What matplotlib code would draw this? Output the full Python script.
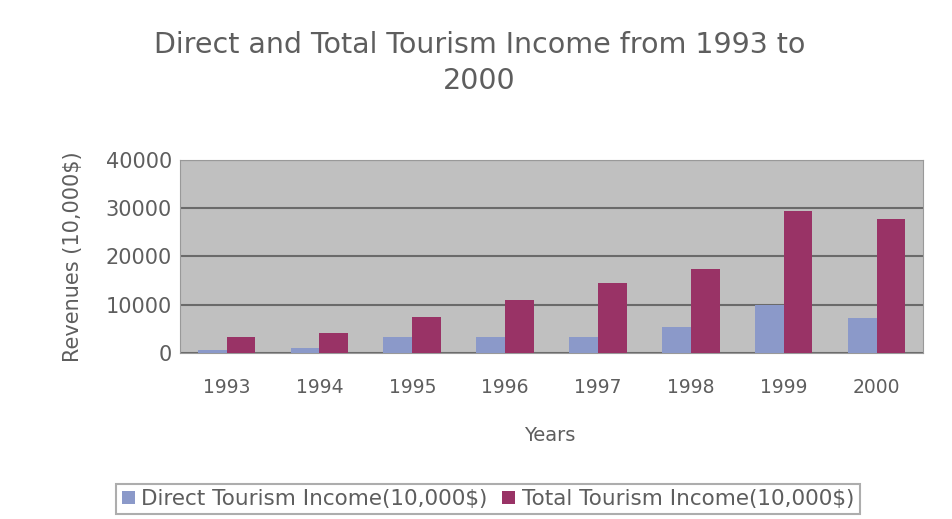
import matplotlib.pyplot as plt
import numpy as np

years = ['1993', '1994', '1995', '1996', '1997', '1998', '1999', '2000']
direct_income = [600, 1000, 3300, 3300, 3300, 5400, 9900, 7200]
total_income = [3300, 4100, 7400, 10900, 14600, 17500, 29500, 27800]

plt.rcParams['font.family'] = ['DejaVu Sans']
txt_col = '#5E5E5E'

fig = plt.figure(figsize=(9.53, 5.19), dpi=100)
ax = fig.add_axes([0.189, 0.3198, 0.7795, 0.372])
ax.set_facecolor('#C0C0C0')

x = np.arange(len(years))
w = 0.31
ax.bar(x - w / 2, direct_income, width=w, color='#8B99C9', label='Direct Tourism Income(10,000$)', zorder=3)
ax.bar(x + w / 2, total_income, width=w, color='#993366', label='Total Tourism Income(10,000$)', zorder=3)

ax.set_xlim(-0.5, len(years) - 0.5)
ax.set_ylim(0, 40000)
ax.set_yticks([0, 10000, 20000, 30000, 40000])
ax.set_xticks(x)
ax.set_xticklabels(years)
ax.yaxis.grid(True, color='#6A6A6A', linewidth=1.5, zorder=1)
ax.tick_params(axis='y', labelsize=15, colors=txt_col, length=0, pad=6)
ax.tick_params(axis='x', labelsize=13.5, colors=txt_col, length=0, pad=18)
for s in ax.spines.values():
    s.set_color('#999999')

ax.set_xlabel('Years', fontsize=14, color=txt_col)
ax.xaxis.set_label_coords(0.497, -0.378)
ax.set_ylabel('Revenues (10,000$)', fontsize=15, color=txt_col)
ax.yaxis.set_label_coords(-0.131, 0.5)

fig.text(0.503, 1 - 63 / 519, 'Direct and Total Tourism Income from 1993 to\n2000', fontsize=20.5,
         color=txt_col, ha='center', va='center', linespacing=1.4)

leg = fig.legend(loc='center', ncol=2, fontsize=15.5, frameon=True, fancybox=False,
                 edgecolor='#999999', handlelength=0.6, handleheight=0.6,
                 columnspacing=0.7, handletextpad=0.3, borderpad=0.25, borderaxespad=0)
leg.set_bbox_to_anchor((0.512, 1 - 499 / 519), transform=fig.transFigure)
leg.get_frame().set_linewidth(1.5)
for t in leg.get_texts():
    t.set_color(txt_col)

fig.savefig('out.png', dpi=100)
